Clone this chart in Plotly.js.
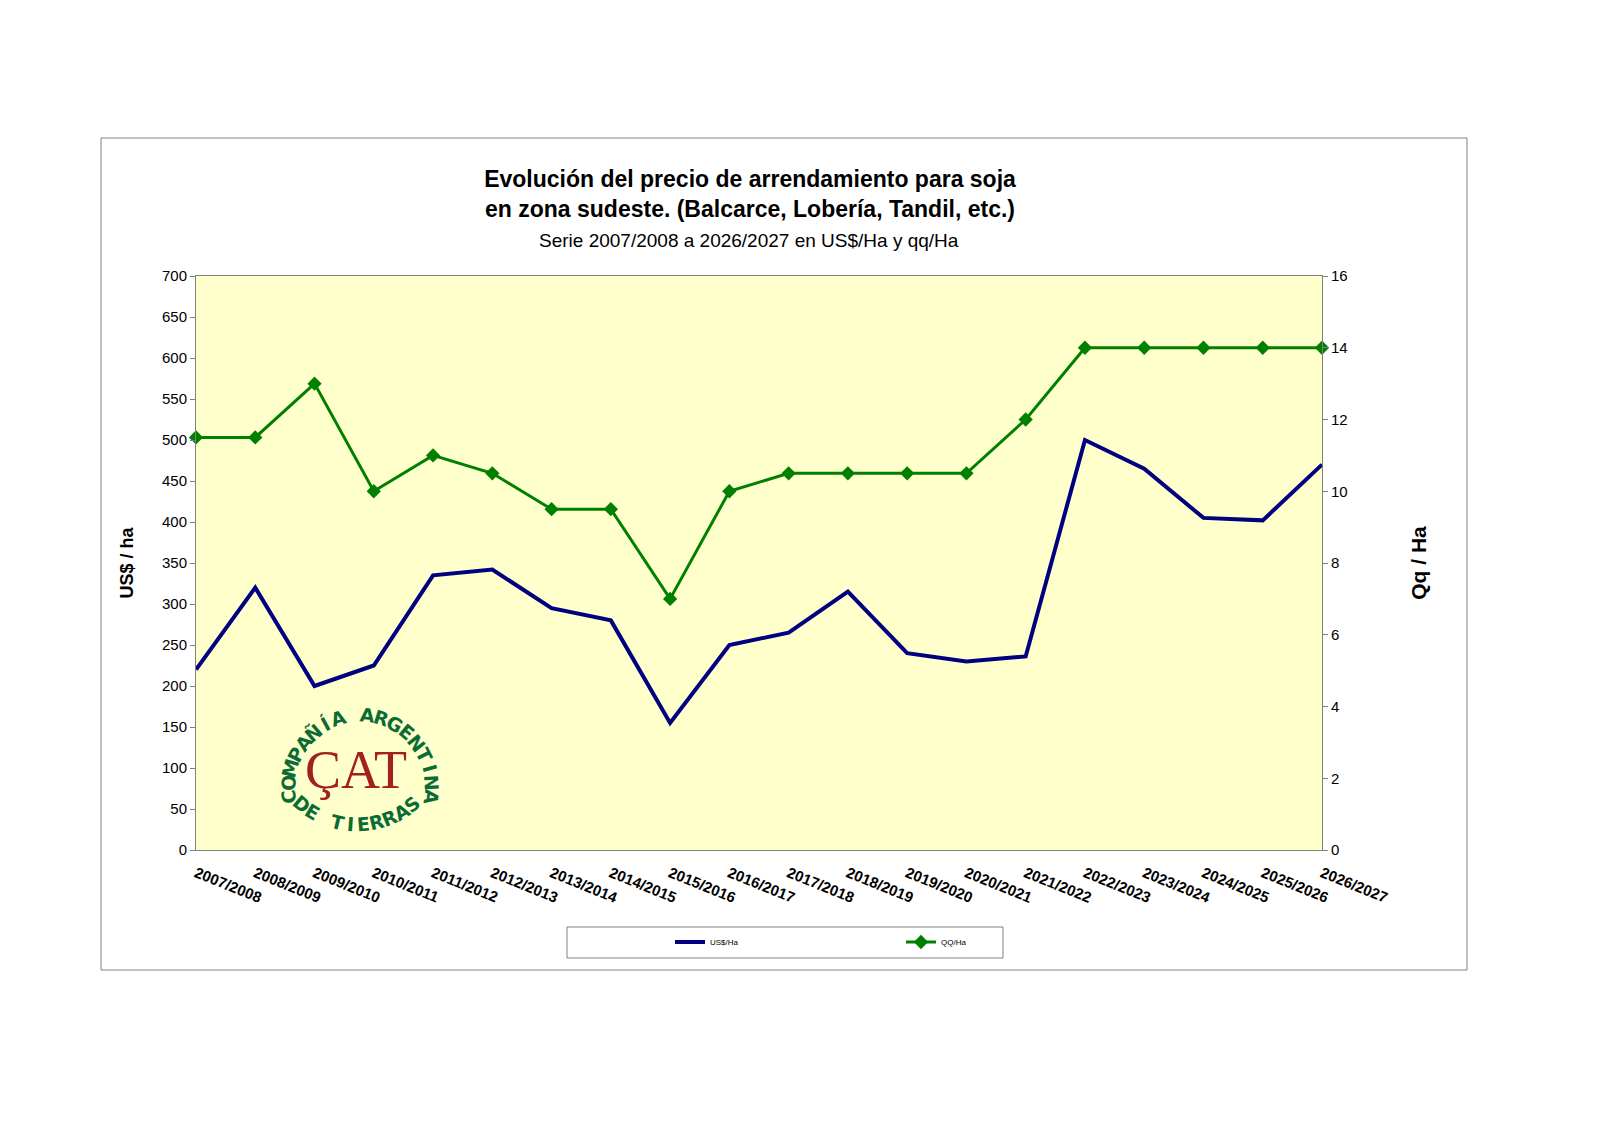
<!DOCTYPE html>
<html>
<head>
<meta charset="utf-8">
<script src="https://cdn.plot.ly/plotly-3.0.1.min.js"></script>
<style>
  html, body { margin: 0; padding: 0; background: #fff; }
  #plot { width: 1600px; height: 1131px; }
</style>
</head>
<body>
<div id="plot"></div>
<script>
// campañas (eje x)
let seasons = ['2007/2008', '2008/2009', '2009/2010', '2010/2011', '2011/2012',
  '2012/2013', '2013/2014', '2014/2015', '2015/2016', '2016/2017', '2017/2018',
  '2018/2019', '2019/2020', '2020/2021', '2021/2022', '2022/2023', '2023/2024',
  '2024/2025', '2025/2026', '2026/2027'];

// US$ por hectarea (eje izq)
let usdHa = [220, 320, 200, 225, 335, 342, 295, 280, 155, 250, 265, 315, 240, 230, 236,
  500, 465, 405, 402, 470];

// quintales por hectarea (eje der)
let qqHa = [11.5, 11.5, 13, 10, 11, 10.5, 9.5, 9.5, 7, 10, 10.5, 10.5, 10.5, 10.5, 12,
  14, 14, 14, 14, 14];

let xMarks = [0, 6, 12, 18]; // excel puts a tick mark every 6 categories

/////////////////////////////////////////////////////////////////////////////////
// plot area in pixels: 196..1322 x 276..850
const L = 196, R = 1322, T = 276, B = 850;
function px(x) { return (x - L) / (R - L); }
function py(y) { return (B - y) / (B - T); }

let idx = seasons.map((s, i) => i);

let usdTrace = {
  x: idx,
  y: usdHa,
  name: 'US$/Ha',
  type: 'scatter',
  mode: 'lines',
  line: { color: '#000080', width: 4 },
  cliponaxis: false
};

let qqTrace = {
  x: idx,
  y: qqHa,
  name: 'QQ/Ha',
  yaxis: 'y2',
  type: 'scatter',
  mode: 'lines+markers',
  line: { color: '#008000', width: 3 },
  marker: { symbol: 'diamond', size: 11, color: '#008000' },
  cliponaxis: false
};

// logo letters along a circle (decoration only)
const green = '#0b6b35';
let logo = [];
function arcText(str, cx, cy, r, a0, a1, top) {
  let n = str.length;
  for (let i = 0; i < n; i++) {
    let ch = str[i];
    if (ch === ' ') continue;
    let a = a0 + (a1 - a0) * i / (n - 1);
    let rad = a * Math.PI / 180;
    let x = cx + r * Math.cos(rad);
    let y = cy - r * Math.sin(rad);
    logo.push({
      text: ch,
      xref: 'paper', yref: 'paper',
      x: px(x), y: py(y),
      xanchor: 'center', yanchor: 'middle',
      showarrow: false,
      textangle: top ? 90 - a : 270 - a,
      font: { family: 'DejaVu Sans, sans-serif', size: 19, weight: 'bold', color: green }
    });
  }
}
arcText('COMPAÑÍA ARGENTINA', 360, 787, 72, 188, -8, true);
arcText('DE TIERRAS', 357, 738, 86, 230, 310, false);
logo.push({
  text: 'ÇAT',
  xref: 'paper', yref: 'paper',
  x: px(356), y: py(770),
  xanchor: 'center', yanchor: 'middle',
  showarrow: false,
  font: { family: 'Liberation Serif, serif', size: 54, color: '#a3201f' }
});

let annotations = [{
  text: 'Serie 2007/2008 a 2026/2027 en US$/Ha y qq/Ha',
  xref: 'paper', yref: 'paper',
  x: px(749), y: py(241),
  xanchor: 'center', yanchor: 'middle',
  showarrow: false,
  font: { family: 'Liberation Sans, Arial, sans-serif', size: 19, color: '#000' }
}].concat(logo);

let axisFont = { family: 'Liberation Sans, Arial, sans-serif', size: 15, color: '#000' };

let layout = {
  width: 1600,
  height: 1131,
  margin: { l: L, r: 1600 - R, t: T, b: 1131 - B, pad: 0 },
  paper_bgcolor: '#ffffff',
  plot_bgcolor: '#ffffcc',
  showlegend: true,
  title: {
    text: '<b>Evolución del precio de arrendamiento para soja<br>en zona sudeste. (Balcarce, Lobería, Tandil, etc.)</b>',
    font: { family: 'Liberation Sans, Arial, sans-serif', size: 23, color: '#000' },
    xref: 'paper', x: px(750), xanchor: 'center',
    yref: 'container', y: 1 - 187 / 1131, yanchor: 'middle'
  },
  xaxis: {
    range: [0, 19],
    tickvals: idx,
    ticktext: seasons,
    tickangle: 22,
    ticks: '',
    ticklabelstandoff: 8,
    tickfont: { family: 'Liberation Sans, Arial, sans-serif', size: 15, weight: 'bold', color: '#000' },
    showgrid: false,
    zeroline: false,
    showline: true,
    linecolor: '#808080',
    linewidth: 1,
    mirror: true,
    fixedrange: true
  },
  xaxis2: {
    range: [0, 19],
    overlaying: 'x',
    anchor: 'y',
    side: 'bottom',
    tickvals: xMarks,
    ticks: 'inside',
    ticklen: 7,
    tickcolor: '#808080',
    showticklabels: false,
    showgrid: false,
    zeroline: false,
    showline: false
  },
  yaxis: {
    range: [0, 700],
    dtick: 50,
    ticks: 'outside',
    ticklen: 5,
    tickcolor: '#808080',
    tickfont: axisFont,
    showgrid: false,
    zeroline: false,
    showline: true,
    linecolor: '#808080',
    linewidth: 1,
    title: {
      text: '<b>US$ / ha</b>',
      font: { family: 'Liberation Sans, Arial, sans-serif', size: 18, color: '#000' },
      standoff: 23
    }
  },
  yaxis2: {
    range: [0, 16],
    dtick: 2,
    overlaying: 'y',
    side: 'right',
    ticks: 'outside',
    ticklen: 5,
    tickcolor: '#808080',
    tickfont: axisFont,
    showgrid: false,
    zeroline: false,
    showline: true,
    linecolor: '#808080',
    linewidth: 1,
    title: {
      text: '<b>Qq / Ha</b>',
      font: { family: 'Liberation Sans, Arial, sans-serif', size: 21, color: '#000' },
      standoff: 64
    }
  },
  legend: {
    orientation: 'h',
    x: px(670), xanchor: 'left',
    y: py(942), yanchor: 'middle',
    entrywidth: 186,
    entrywidthmode: 'pixels',
    bgcolor: 'rgba(0,0,0,0)',
    borderwidth: 0,
    font: { family: 'Liberation Sans, Arial, sans-serif', size: 8, color: '#000' }
  },
  shapes: [
    // outer chart frame
    { type: 'rect', xref: 'paper', yref: 'paper', x0: px(101), x1: px(1467), y0: py(138), y1: py(970),
      line: { color: '#808080', width: 1 }, layer: 'below' },
    // legend frame
    { type: 'rect', xref: 'paper', yref: 'paper', x0: px(567), x1: px(1003), y0: py(927), y1: py(958),
      line: { color: '#808080', width: 1 } }
  ],
  annotations: annotations
};

Plotly.newPlot('plot', [usdTrace, qqTrace], layout, { staticPlot: true });
</script>
</body>
</html>
